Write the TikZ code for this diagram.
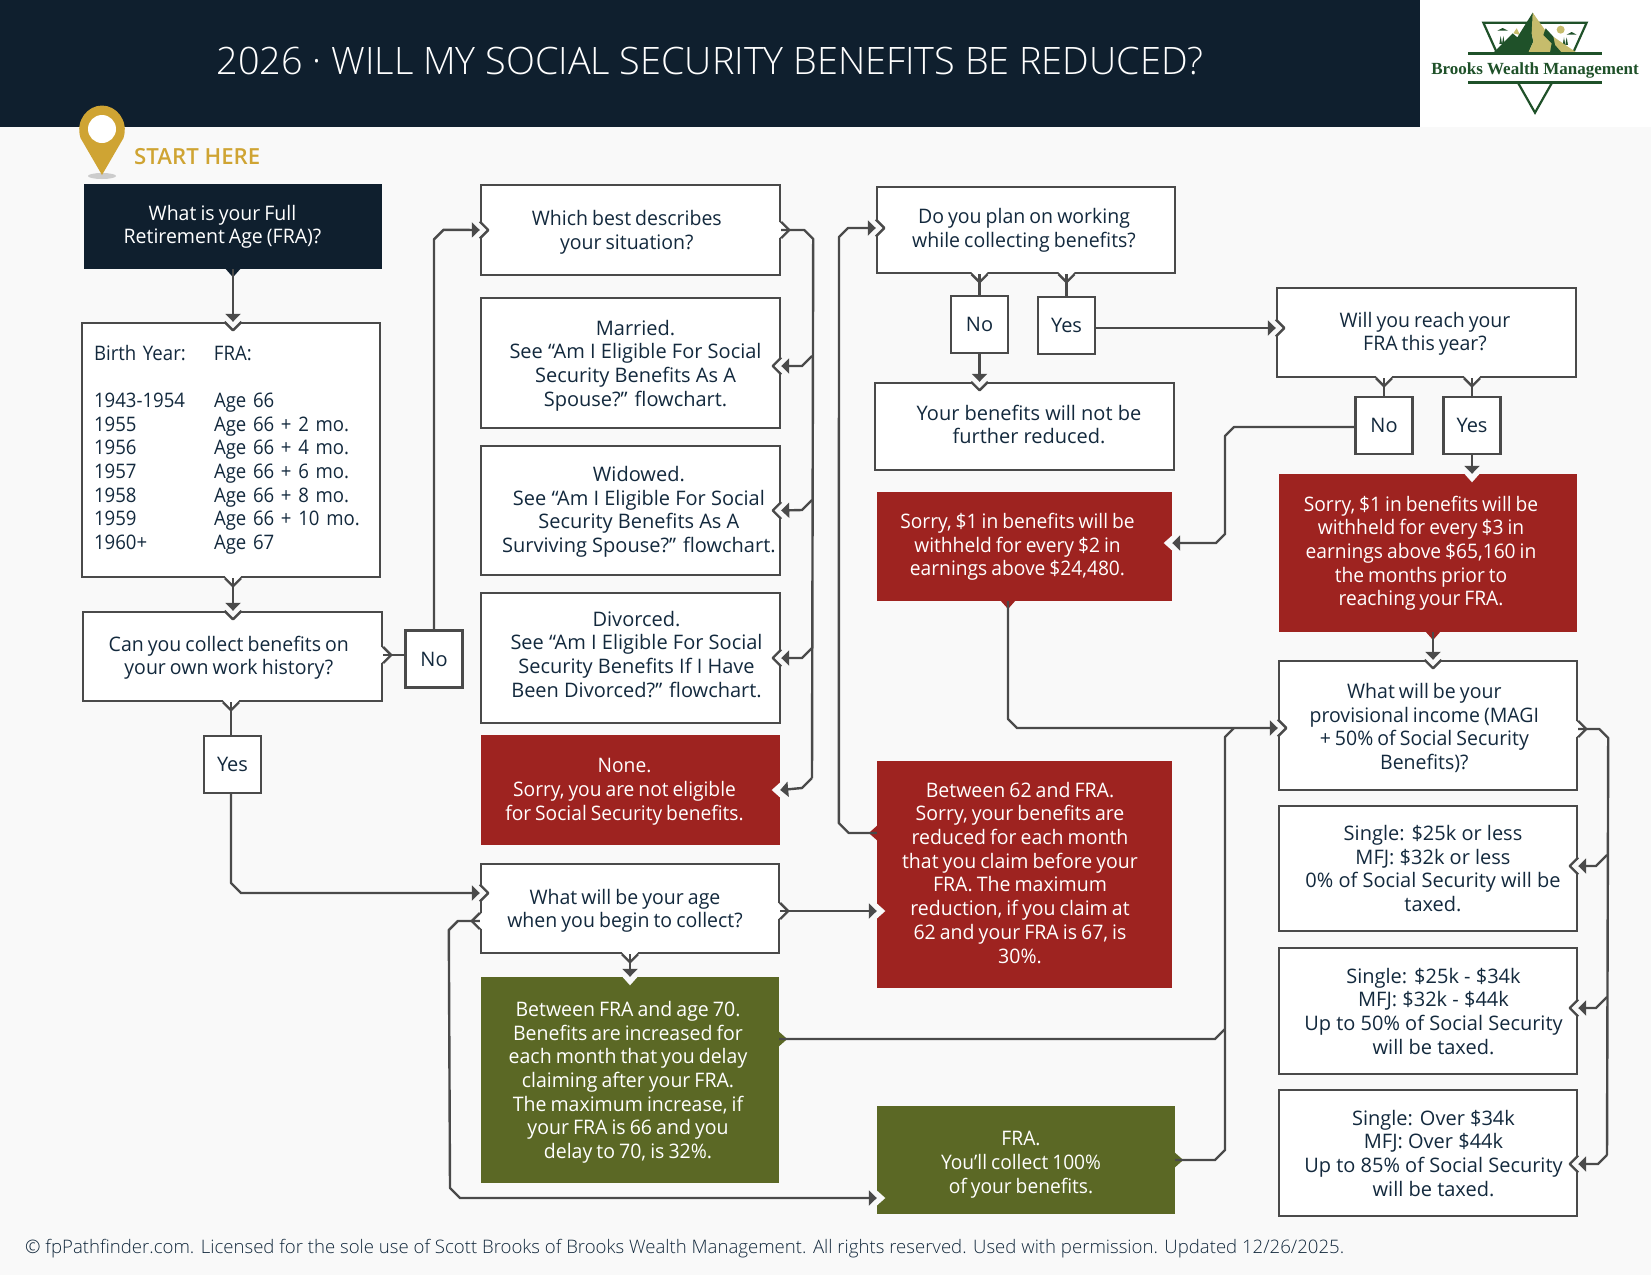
\documentclass[tikz,border=0pt]{standalone}
\usepackage{fontspec}
\setmainfont{Open Sans}
\newfontfamily\lightfont{Open Sans Light}
\newfontfamily\semifont{Open Sans Semibold}
\newfontfamily\logofont{Liberation Serif}
\newfontfamily\tightfont{Open Sans}[FakeStretch=0.975,WordSpace=0.8]
\newfontfamily\tighterfont{Open Sans}[FakeStretch=0.96,WordSpace=0.8]
\newfontfamily\tightestfont{Open Sans}[FakeStretch=0.93,WordSpace=0.5]
\usetikzlibrary{%
  arrows.meta,%
  calc%
}
\definecolor{navy}{HTML}{0F1F2E}
\definecolor{ink}{HTML}{13293D}
\definecolor{edge}{HTML}{4A4A4A}
\definecolor{paper}{HTML}{F9F9F9}
\definecolor{redbox}{HTML}{9E2320}
\definecolor{greenbox}{HTML}{5B6825}
\definecolor{gold}{HTML}{CFA433}
\definecolor{logogreen}{HTML}{1F5129}
\definecolor{logogold}{HTML}{C6BC6C}
\newcommand{\birthrow}[2]{\makebox[120pt][l]{#1}#2\\}
% text of a box, moved right and down from the middle of the box
\newcommand{\moved}[3]{\makebox[0pt]{\hspace{\dimexpr#1pt*2\relax}\raisebox{\dimexpr-#2pt-5pt\relax}[0pt][0pt]{%
    \begin{tabular}{@{}c@{}}#3\end{tabular}}}}

\begin{document}
\begin{tikzpicture}[
    x=1pt,y=-1pt,
    >={Triangle[width=15pt,length=8pt]},
    base/.style={rectangle,inner sep=0pt,align=center,
        font=\fontsize{20}{23.7}\selectfont},
    tight/.style={font=\tightfont\fontsize{20}{23.7}\selectfont},
    tighter/.style={font=\tighterfont\fontsize{20}{23.7}\selectfont},
    qbox/.style={base,draw=edge,line width=2.4pt,fill=white,text=ink},
    tag/.style={qbox,minimum size=57pt},
    redfill/.style={base,fill=redbox,text=white},
    greenfill/.style={base,fill=greenbox,text=white},
    conn/.style={draw=edge,line width=2.4pt,line join=round},
    notch/.pic={
        \fill[paper] (-2,-8.5) -- (8.5,0) -- (-2,8.5) -- cycle;
        \draw[conn] (0,-8.5) -- (8.5,0) -- (0,8.5);},
    flatnotch/.pic={\fill[paper] (-1,-8.5) -- (8.5,0) -- (-1,8.5) -- cycle;},
    bump/.pic={
        \fill[white] (-2,-8) -- (8,0) -- (-2,8) -- cycle;
        \draw[conn] (0,-8) -- (8,0) -- (0,8);},
    flatbump/.pic={\fill[#1] (-1,-8) -- (8,0) -- (-1,8) -- cycle;}
  ]

    \useasboundingbox (0,0) rectangle (1651,1275);
    \fill[paper] (0,0) rectangle (1651,1275);
    \fill[white] (1420,0) rectangle (1651,127);
    \fill[navy] (0,0) rectangle (1420,127);
    \node[text=white,font=\lightfont\fontsize{37.8}{42}\selectfont,inner sep=0pt] (title) at (710,61)
        {2026 · WILL MY SOCIAL SECURITY BENEFITS BE REDUCED?};

    % logo
    \begin{scope}[shift={(1380,0)},x=0.3333pt,y=-0.3333pt]
        \draw[logogreen,line width=2.2pt] (350,157) -- (310,68) -- (620,68) -- (580,157);
        \fill[logogreen] (352,92) -- (368,84) -- (384,92) -- cycle;
        \fill[logogreen] (560,104) -- (575,96) -- (590,104) -- cycle;
        \fill[logogreen] (358,132) -- (362,108) -- (366,132) -- cycle;
        \fill[logogreen] (366,132) -- (370,108) -- (374,132) -- cycle;
        \fill[logogreen] (548,135) -- (552,112) -- (556,135) -- cycle;
        \fill[logogreen] (556,135) -- (560,112) -- (564,135) -- cycle;
        \fill[logogold] (400,100) -- (410,85) -- (420,105) -- cycle;
        \fill[logogreen] (340,158) -- (398,100) -- (412,112) -- (458,38)
            -- (470,60) -- (455,100) -- (460,125) -- (445,158) -- cycle;
        \fill[logogold] (458,38) -- (495,90) -- (505,100) -- (590,158) -- (445,158)
            -- (460,125) -- (455,100) -- cycle;
        \fill[logogreen] (497,85) -- (520,110) -- (525,135) -- (545,158) -- (510,158)
            -- (515,130) -- (490,105) -- cycle;
        \fill[logogold] (542,89) circle (12);
        \fill[logogreen] (264,157) rectangle (665,165);
        \fill[logogreen] (264,244) rectangle (665,252);
        \draw[logogreen,line width=2.2pt] (415,250) -- (465,338) -- (515,250);
        \node[logogreen,inner sep=0pt,font=\logofont\bfseries\fontsize{17}{18}\selectfont] (logotext) at (465,210)
            {Brooks Wealth Management};
    \end{scope}

    % start marker
    \fill[black!20] (102,176) ellipse (14 and 3);
    \fill[gold] (102,175) -- (80.5,138) .. controls (75,120) and (88,105.5) .. (102,105.5)
        .. controls (116,105.5) and (129,120) .. (123.5,138) -- cycle;
    \fill[white] (102,129) circle (14);
    \node[gold,anchor=base west,inner sep=0pt,font=\semifont\fontsize{22.2}{26}\selectfont] (start) at (134,164) {START HERE};

    % first column
    \node[base,tight,fill=navy,text=white,minimum width=298pt,minimum height=85pt] (fra) at (233,226.5)
        {\moved{-10.5}{1}{What is your Full\\Retirement Age (FRA)?}};
    \node[qbox,font=\tightestfont\fontsize{20}{23.7}\selectfont,minimum height=254pt,text width=274pt,inner xsep=12pt,align=left] (birth) at (231,450) {%
        \birthrow{Birth Year:}{FRA:}
        \mbox{}\\[-1pt]
        \birthrow{1943-1954}{Age 66}
        \birthrow{1955}{Age 66 + 2 mo.}
        \birthrow{1956}{Age 66 + 4 mo.}
        \birthrow{1957}{Age 66 + 6 mo.}
        \birthrow{1958}{Age 66 + 8 mo.}
        \birthrow{1959}{Age 66 + 10 mo.}
        \makebox[120pt][l]{1960+}Age 67};
    \node[qbox,tight,minimum width=299pt,minimum height=89pt] (collect) at (232.5,656.5)
        {\moved{-3.7}{2}{Can you collect benefits on\\your own work history?}};
    \node[tag] (noa) at (434,659) {No};
    \node[tag] (yesa) at (232.5,764.5) {Yes};

    % second column
    \node[qbox,tight,minimum width=299pt,minimum height=90pt] (situation) at (630.5,230)
        {\moved{-3.7}{3}{Which best describes\\your situation?}};
    \node[qbox,minimum width=299pt,minimum height=130pt] (married) at (630.5,363)
        {\moved{5}{3}{Married.\\See “Am I Eligible For Social\\Security Benefits As A\\Spouse?” flowchart.}};
    \node[qbox,minimum width=299pt,minimum height=129pt] (widowed) at (630.5,510.5)
        {\moved{8.4}{2}{Widowed.\\See “Am I Eligible For Social\\Security Benefits As A\\Surviving Spouse?” flowchart.}};
    \node[qbox,minimum width=299pt,minimum height=130pt] (divorced) at (630.5,658)
        {\moved{6}{-1}{Divorced.\\See “Am I Eligible For Social\\Security Benefits If I Have\\Been Divorced?” flowchart.}};
    \node[redfill,tighter,minimum width=299pt,minimum height=110pt] (none) at (630.5,790)
        {\moved{-6}{2}{None.\\Sorry, you are not eligible\\for Social Security benefits.}};
    \node[qbox,tight,minimum width=298pt,minimum height=89pt] (age) at (630,908.5)
        {\moved{-5}{3}{What will be your age\\when you begin to collect?}};
    \node[greenfill,tight,minimum width=298pt,minimum height=206pt] (greena) at (630,1080)
        {\moved{-2}{3}{Between FRA and age 70.\\Benefits are increased for\\each month that you delay\\claiming after your FRA.\\The maximum increase, if\\your FRA is 66 and you\\delay to 70, is 32\%.}};

    % third column
    \node[qbox,tight,minimum width=298pt,minimum height=86pt] (plan) at (1026,230)
        {\moved{-2}{1}{Do you plan on working\\while collecting benefits?}};
    \node[tag] (nob) at (979.5,324.5) {No};
    \node[tag] (yesb) at (1066.5,325.5) {Yes};
    \node[qbox,minimum width=299pt,minimum height=87pt] (further) at (1024.5,426.5)
        {\moved{4.5}{1}{Your benefits will not be\\further reduced.}};
    \node[redfill,tighter,minimum width=295pt,minimum height=109pt] (redb) at (1024.5,546.5)
        {\moved{-7}{1}{Sorry, \$1 in benefits will be\\withheld for every \$2 in\\earnings above \$24,480.}};
    \node[redfill,tight,minimum width=295pt,minimum height=227pt] (between) at (1024.5,874.5)
        {\moved{-4.5}{1}{Between 62 and FRA.\\Sorry, your benefits are\\reduced for each month\\that you claim before your\\FRA. The maximum\\reduction, if you claim at\\62 and your FRA is 67, is\\30\%.}};
    \node[greenfill,tighter,minimum width=298pt,minimum height=108pt] (greenb) at (1026,1160)
        {\moved{-5}{5}{FRA.\\You’ll collect 100\%\\of your benefits.}};

    % fourth column
    \node[qbox,tight,minimum width=299pt,minimum height=89pt] (reach) at (1426.5,332.5)
        {\moved{-1.5}{2}{Will you reach your\\FRA this year?}};
    \node[tag] (noc) at (1384,425.5) {No};
    \node[tag] (yesc) at (1472,425.5) {Yes};
    \node[redfill,tighter,minimum width=298pt,minimum height=158pt] (redc) at (1428,553)
        {\moved{-7}{1}{Sorry, \$1 in benefits will be\\withheld for every \$3 in\\earnings above \$65,160 in\\the months prior to\\reaching your FRA.}};
    \node[qbox,tight,minimum width=298pt,minimum height=129pt] (prov) at (1428,725.5)
        {\moved{-3.7}{4}{What will be your\\provisional income (MAGI\\+ 50\% of Social Security\\Benefits)?}};
    \node[qbox,minimum width=298pt,minimum height=125pt] (singlea) at (1428,868.5)
        {\moved{5}{3}{Single: \$25k or less\\MFJ: \$32k or less\\0\% of Social Security will be\\taxed.}};
    \node[qbox,minimum width=298pt,minimum height=126pt] (singleb) at (1428,1011)
        {\moved{5.5}{3}{Single: \$25k - \$34k\\MFJ: \$32k - \$44k\\Up to 50\% of Social Security\\will be taxed.}};
    \node[qbox,minimum width=298pt,minimum height=126pt] (singlec) at (1428,1153)
        {\moved{5.5}{3}{Single: Over \$34k\\MFJ: Over \$44k\\Up to 85\% of Social Security\\will be taxed.}};

    \node[text=ink,anchor=base west,inner sep=0pt,font=\lightfont\fontsize{18.6}{20}\selectfont] (footer) at (25,1253)
        {© fpPathfinder.com. Licensed for the sole use of Scott Brooks of Brooks Wealth Management. All rights reserved. Used with permission. Updated 12/26/2025.};

    % ports off the node centres
    \coordinate (birthin) at (birth.north -| fra.south);
    \coordinate (birthout) at (birth.south -| fra.south);
    \coordinate (collectin) at (collect.north -| fra.south);
    \coordinate (collectout) at (collect.south -| 231,0);
    \coordinate (collectright) at (collect.east |- 0,655);
    \coordinate (marriedin) at (married.east |- 0,366);
    \coordinate (sitin) at (situation.west |- 0,230);
    \coordinate (ageina) at (age.west |- 0,893);
    \coordinate (ageout) at (age.west |- 0,921);
    \coordinate (ageright) at (age.east |- 0,911);
    \coordinate (betin) at (between.west |- 0,911);
    \coordinate (betout) at (between.west |- 0,833);
    \coordinate (greenaout) at (greena.east |- 0,1039);
    \coordinate (greenbin) at (greenb.west |- 0,1198);
    \coordinate (planin) at (plan.west |- 0,228);
    \coordinate (planno) at (plan.south -| nob);
    \coordinate (planyes) at (plan.south -| yesb);
    \coordinate (reachin) at (reach.west |- 0,328);
    \coordinate (reachno) at (reach.south -| noc);
    \coordinate (reachyes) at (reach.south -| yesc);
    \coordinate (redbin) at (redb.east |- 0,543);
    \coordinate (redbout) at (1008,601);
    \coordinate (redcin) at (redc.north -| yesc);
    \coordinate (redcout) at (1433,632);
    \coordinate (provtop) at (prov.north -| redcout);
    \coordinate (provin) at (prov.west |- 0,728);
    \coordinate (provout) at (prov.east |- 0,729);
    \coordinate (furtherin) at (further.north -| nob);
    \coordinate (singleain) at (singlea.east |- 0,866);
    \coordinate (singlebin) at (singleb.east |- 0,1008);
    \coordinate (singlecin) at (singlec.east |- 0,1164);

    % notches and bumps on the box edges
    \foreach \p/\r in {birthin/-90,collectin/-90,sitin/0,marriedin/180,widowed.east/180,
        divorced.east/180,ageina/0,planin/0,furtherin/-90,reachin/0,provtop/-90,provin/0,
        singleain/180,singlebin/180,singlecin/180}
        \path (\p) pic[rotate=\r] {notch};
    \foreach \p/\r in {none.east/180,greena.north/-90,betin/0,greenbin/0,redbin/180,redcin/-90}
        \path (\p) pic[rotate=\r] {flatnotch};
    \foreach \p/\r in {birthout/-90,collectright/0,collectout/-90,situation.east/0,ageout/180,ageright/0,
        age.south/-90,planno/-90,planyes/-90,reachno/-90,reachyes/-90,provout/0}
        \path (\p) pic[rotate=\r] {bump};
    \path (fra.south) pic[rotate=-90] {flatbump=navy};
    \path (redbout) pic[rotate=-90] {flatbump=redbox};
    \path (redcout) pic[rotate=-90] {flatbump=redbox};
    \path (betout) pic[rotate=180] {flatbump=redbox};
    \path (greenaout) pic[rotate=0] {flatbump=greenbox};
    \path (greenb.east) pic[rotate=0] {flatbump=greenbox};

    % connectors
    \draw[conn,->] (fra.south) -- (birthin);
    \draw[conn,->] (birthout) -- (collectin);
    \draw[conn] (collectright) -- (noa.west |- collectright);
    \draw[conn] (collectout) -- (yesa.north -| collectout);
    \draw[conn,->] (noa.north) -- ++(0,-390) -- ++(9.5,-9.5) -- (sitin);
    \draw[conn,->] (yesa.south -| collectout) -- (collectout |- 0,883) -- ++(10,10) -- (ageina);

    \draw[conn] (situation.east) -- ++(23,0) -- ++(9,9) -- (812,778);
    \draw[conn,->] (812,356) -- ++(-10,10) -- (marriedin);
    \draw[conn,->] (812,500) -- ++(-10,10) -- (widowed.east);
    \draw[conn,->] (812,648) -- ++(-10,10) -- (divorced.east);
    \draw[conn,->] (812,778) -- ++(-10,10) -- (none.east);

    \draw[conn,->] (ageout) -- ++(-22,0) -- ++(-9,9) -- (450,1188) -- ++(10,10) -- (greenbin);
    \draw[conn,->] (ageright) -- (betin);
    \draw[conn,->] (age.south) -- (greena.north);
    \draw[conn,->] (betout) -- ++(-28,0) -- ++(-10,-10) -- (839,237) -- ++(9,-9) -- (planin);
    \draw[conn] (planno) -- (nob.north);
    \draw[conn] (planyes) -- (yesb.north);
    \draw[conn,->] (nob.south) -- (furtherin);
    \draw[conn,->] (yesb.east |- reachin) -- (reachin);
    \draw[conn] (reachno) -- (noc.north);
    \draw[conn] (reachyes) -- (yesc.north);
    \draw[conn,->] (yesc.south) -- (redcin);
    \draw[conn,->] (noc.west |- 0,427) -- (1234,427) -- ++(-9,9) -- (1225,534) -- ++(-9,9) -- (redbin);
    \draw[conn,->] (redcout) -- (provtop);
    \draw[conn,->] (redbout) -- (1008,719) -- ++(9,9) -- (provin);
    \draw[conn] (greenaout) -- (1215,1039) -- ++(10,-10) -- (1225,737) -- ++(9,-9);
    \draw[conn] (greenb.east) -- (1215,1160) -- ++(10,-10) -- (1225,1030);

    \draw[conn] (provout) -- ++(21,0) -- ++(9,9) -- (1607,1155);
    \draw[conn,->] (1607,855) -- ++(-11,11) -- (singleain);
    \draw[conn,->] (1607,997) -- ++(-11,11) -- (singlebin);
    \draw[conn,->] (1607,1155) -- ++(-9,9) -- (singlecin);
\end{tikzpicture}
\end{document}
